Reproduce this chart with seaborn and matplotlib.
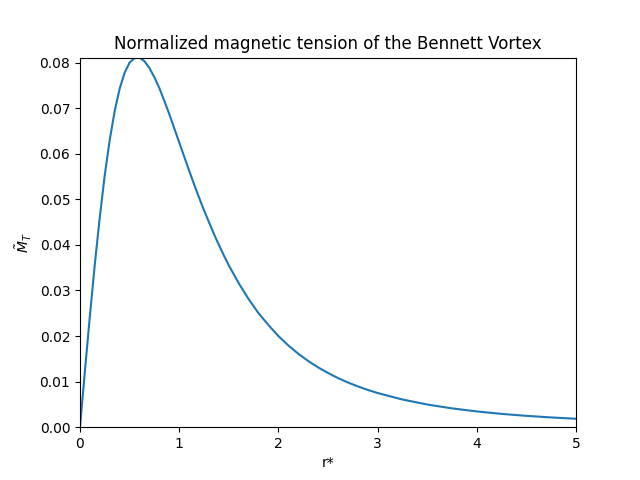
import matplotlib
matplotlib.use("Agg")
import matplotlib.pyplot as plt
import seaborn as sns
import pandas as pd

r_values = [0.0, 0.025, 0.05, 0.1, 0.15, 0.2, 0.25, 0.3, 0.35, 0.4, 0.45, 0.5, 0.55, 0.6,
            0.65, 0.7, 0.75, 0.8, 0.85, 0.9, 0.95, 1.0, 1.05, 1.1, 1.15, 1.2, 1.25,
            1.3, 1.35, 1.4, 1.45, 1.5, 1.6, 1.7, 1.8, 1.9, 2.0, 2.1, 2.2, 2.3, 2.4,
            2.5, 2.6, 2.7, 2.8, 2.9, 3.0, 3.25, 3.5, 3.75, 4.0, 4.25, 4.5, 4.75, 5.0]
tension_values = [0.0, 0.00624, 0.01244, 0.0245, 0.0359, 0.0462, 0.0554, 0.0631, 0.0694,
                  0.0743, 0.0778, 0.0800, 0.0810, 0.0811, 0.0803, 0.0788, 0.0768,
                  0.0744, 0.0716, 0.0687, 0.0656, 0.0625, 0.0594, 0.0563, 0.0533,
                  0.0504, 0.0476, 0.0450, 0.0424, 0.0400, 0.0377, 0.0355, 0.0316,
                  0.0281, 0.0250, 0.0224, 0.0200, 0.01794, 0.01613, 0.01453, 0.01313,
                  0.0119, 0.01079, 0.00982, 0.00896, 0.00819, 0.0075, 0.00608,
                  0.00498, 0.00413, 0.00346, 0.00292, 0.00249, 0.00214, 0.00185]

df = pd.DataFrame({"r": r_values, "MT": tension_values})

fig, ax = plt.subplots(figsize=(6.4, 4.8), dpi=100)
sns.lineplot(data=df, x="r", y="MT", ax=ax, color="#1f77b4")
ax.set_xlim(0, 5)
ax.set_ylim(0, max(tension_values))
ax.set_title("Normalized magnetic tension of the Bennett Vortex")
ax.set_xlabel("r*")
ax.set_ylabel(r"$\tilde{M}_T$")
fig.savefig("out.png", dpi=100)
